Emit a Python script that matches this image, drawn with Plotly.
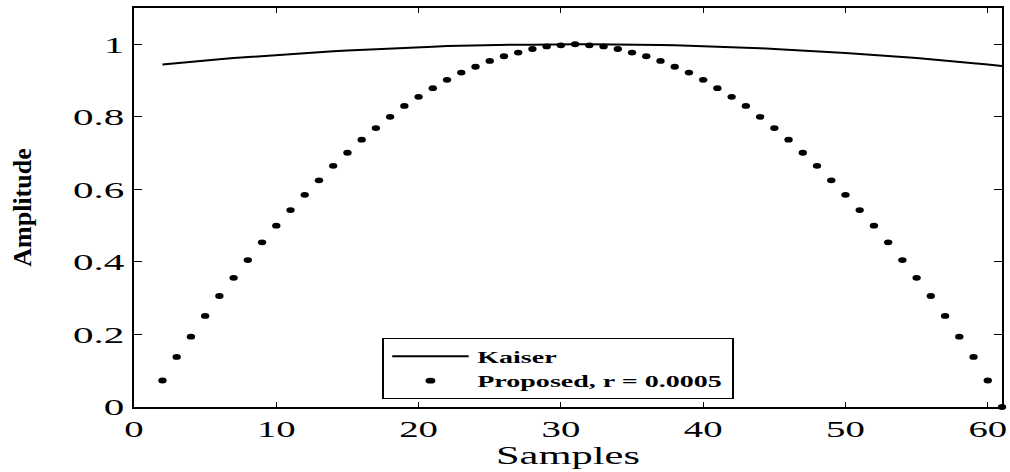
import plotly.graph_objects as go

# Sample index (x axis)
samples = list(range(2, 62))

# Kaiser window amplitude at each sample
kaiser = [0.944, 0.948, 0.952, 0.955, 0.959, 0.962, 0.965, 0.968, 0.971, 0.973,
          0.976, 0.979, 0.981, 0.983, 0.985, 0.987, 0.989, 0.990, 0.992, 0.993,
          0.995, 0.996, 0.997, 0.998, 0.998, 0.999, 0.999, 1.000, 1.000, 1.000,
          1.000, 1.000, 0.999, 0.999, 0.998, 0.998, 0.997, 0.996, 0.995, 0.993,
          0.992, 0.990, 0.989, 0.987, 0.985, 0.983, 0.981, 0.979, 0.976, 0.973,
          0.971, 0.968, 0.965, 0.962, 0.959, 0.955, 0.952, 0.948, 0.944, 0.940]

# Proposed window amplitude at each sample
proposed = [0.073, 0.138, 0.194, 0.251, 0.306, 0.356, 0.405, 0.454, 0.500, 0.543,
            0.585, 0.625, 0.665, 0.701, 0.737, 0.769, 0.800, 0.830, 0.855, 0.879,
            0.902, 0.922, 0.938, 0.954, 0.967, 0.977, 0.987, 0.994, 0.997, 1.000,
            0.997, 0.994, 0.987, 0.977, 0.967, 0.954, 0.938, 0.922, 0.902, 0.879,
            0.855, 0.830, 0.800, 0.769, 0.737, 0.701, 0.665, 0.625, 0.585, 0.543,
            0.500, 0.454, 0.405, 0.356, 0.306, 0.251, 0.194, 0.138, 0.073, 0.000]

x_ticks = [0, 10, 20, 30, 40, 50, 60]
y_ticks = [0, 0.2, 0.4, 0.6, 0.8, 1]

SERIF = "Liberation Serif, Times New Roman, serif"

fig = go.Figure()
fig.add_trace(go.Scatter(
    x=samples, y=kaiser, mode="lines", name="Kaiser",
    line=dict(color="black", width=2),
))
fig.add_trace(go.Scatter(
    x=samples, y=proposed, mode="markers", name="Proposed, r = 0.0005",
    marker=dict(color="black", size=5.8, symbol="circle"),
    cliponaxis=False,
))

axis_common = dict(
    showline=True, linecolor="black", linewidth=1.8, mirror="ticks",
    ticks="inside", tickcolor="black", tickwidth=1,
    showgrid=False, zeroline=False,
    tickfont=dict(family=SERIF, size=23.5, color="black"),
)

fig.update_layout(
    width=1010, height=472,
    margin=dict(l=134, r=8, t=6, b=65),
    paper_bgcolor="white", plot_bgcolor="white",
    xaxis=dict(range=[0, 61], tickvals=x_ticks, ticklen=5,
               title=dict(text="Samples", standoff=3,
                          font=dict(family=SERIF, size=25, color="black")),
               **axis_common),
    yaxis=dict(range=[0, 1.1], tickvals=y_ticks, ticklen=8, ticklabelstandoff=3,
               title=dict(text="Amplitude", standoff=56,
                          font=dict(family=SERIF, size=26, color="black", weight="bold")),
               **axis_common),
    legend=dict(
        x=0.2857, y=0.173, xanchor="left", yanchor="top",
        bgcolor="white", bordercolor="black", borderwidth=1,
        itemwidth=45, tracegroupgap=0,
        font=dict(family=SERIF, size=16.5, color="black", weight="bold"),
    ),
    showlegend=True,
)

# Widen horizontal text, markers and the legend box after rendering
stretch_js = """
var gd = document.getElementById('{plot_id}');
function stretch(sel, sx) {
  gd.querySelectorAll(sel).forEach(function(t) {
    var x = parseFloat(t.getAttribute('x')) || 0;
    var y = parseFloat(t.getAttribute('y')) || 0;
    var tr = t.getAttribute('transform') || '';
    t.setAttribute('transform', tr + ' translate(' + x + ',' + y + ') scale(' + sx + ',1) translate(' + (-x) + ',' + (-y) + ')');
  });
}
stretch('g.xtick text', 1.65);
stretch('g.ytick text', 1.75);
stretch('text.xtitle', 1.7);
gd.querySelectorAll('path.point').forEach(function(p) {
  p.setAttribute('transform', (p.getAttribute('transform') || '') + ' scale(1.45,1)');
});
var lg = gd.querySelector('g.legend');
if (lg) { lg.setAttribute('transform', (lg.getAttribute('transform') || '') + ' scale(1.7,1)'); }
"""

fig.write_html("out.html", post_script=stretch_js, config={"responsive": False})
